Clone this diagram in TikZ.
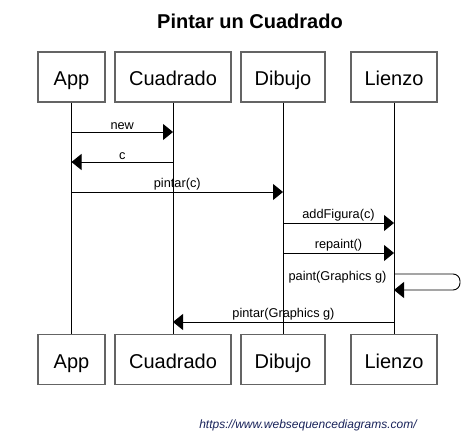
\documentclass[tikz,border=0pt]{standalone}
\usepackage{fontspec}
\setmainfont{Liberation Sans}
\usetikzlibrary{arrows.meta}
\definecolor{boxgray}{RGB}{100,100,100}
\definecolor{linkblue}{RGB}{25,35,90}
\tikzset{
	obj/.style={draw=boxgray, line width=1.2pt, minimum height=50pt, inner sep=0pt, text height=17pt, text depth=0pt, font=\fontsize{20}{24}\selectfont},
	msg/.style={-{Triangle[length=10pt, width=16pt]}, line width=0.9pt},
	lbl/.style={font=\fontsize{12.75}{15}\selectfont, inner sep=1.5pt},
}
\begin{document}
\begin{tikzpicture}[x=1pt, y=-1pt]
		\fill[white] (0, 0) rectangle (472, 439);
		\useasboundingbox (0, 0) rectangle (472, 439);
		\node[font=\bfseries\fontsize{20}{24}\selectfont] (title) at (250, 21) {Pintar un Cuadrado};
		\node[obj, minimum width=67pt] (App) at (71.5, 77) {App};
		\node[obj, minimum width=116pt] (Cuadrado) at (173, 77) {Cuadrado};
		\node[obj, minimum width=84pt] (Dibujo) at (283, 77) {Dibujo};
		\node[obj, minimum width=86pt] (Lienzo) at (394, 77) {Lienzo};
		\node[obj, minimum width=67pt] (App2) at (71.5, 359.5) {App};
		\node[obj, minimum width=116pt] (Cuadrado2) at (173, 359.5) {Cuadrado};
		\node[obj, minimum width=84pt] (Dibujo2) at (283, 359.5) {Dibujo};
		\node[obj, minimum width=86pt] (Lienzo2) at (394, 359.5) {Lienzo};
		\node[lbl] (paint) at (337.5, 277) {paint(Graphics g)};
		\node[font=\itshape\fontsize{12}{14}\selectfont, text=linkblue] (link) at (308, 425) {https://www.websequencediagrams.com/};

		\coordinate (t1) at (0, 132);
		\coordinate (t2) at (0, 162);
		\coordinate (t3) at (0, 192);
		\coordinate (t4) at (0, 223);
		\coordinate (t5) at (0, 253);
		\coordinate (t6) at (0, 274);
		\coordinate (t7) at (0, 290);
		\coordinate (t8) at (0, 322);

		\draw[line width=0.9pt] (App) -- (App2);
		\draw[line width=0.9pt] (Cuadrado) -- (Cuadrado2);
		\draw[line width=0.9pt] (Dibujo) -- (Dibujo2);
		\draw[line width=0.9pt] (Lienzo) -- (Lienzo2);
		\draw[msg] (App |- t1) -- (Cuadrado |- t1) node[midway, above, lbl] {new};
		\draw[msg] (Cuadrado |- t2) -- (App |- t2) node[midway, above, lbl] {c};
		\draw[msg] (App |- t3) -- (Dibujo |- t3) node[midway, above, lbl] {pintar(c)};
		\draw[msg] (Dibujo |- t4) -- (Lienzo |- t4) node[midway, above, lbl] {addFigura(c)};
		\draw[msg] (Dibujo |- t5) -- (Lienzo |- t5) node[midway, above, lbl] {repaint()};
		\draw[msg, rounded corners=7pt] (Lienzo |- t6) -- ++(66, 0) |- (Lienzo |- t7);
		\draw[msg] (Lienzo |- t8) -- (Cuadrado |- t8) node[midway, above, lbl] {pintar(Graphics g)};
	\end{tikzpicture}
\end{document}
